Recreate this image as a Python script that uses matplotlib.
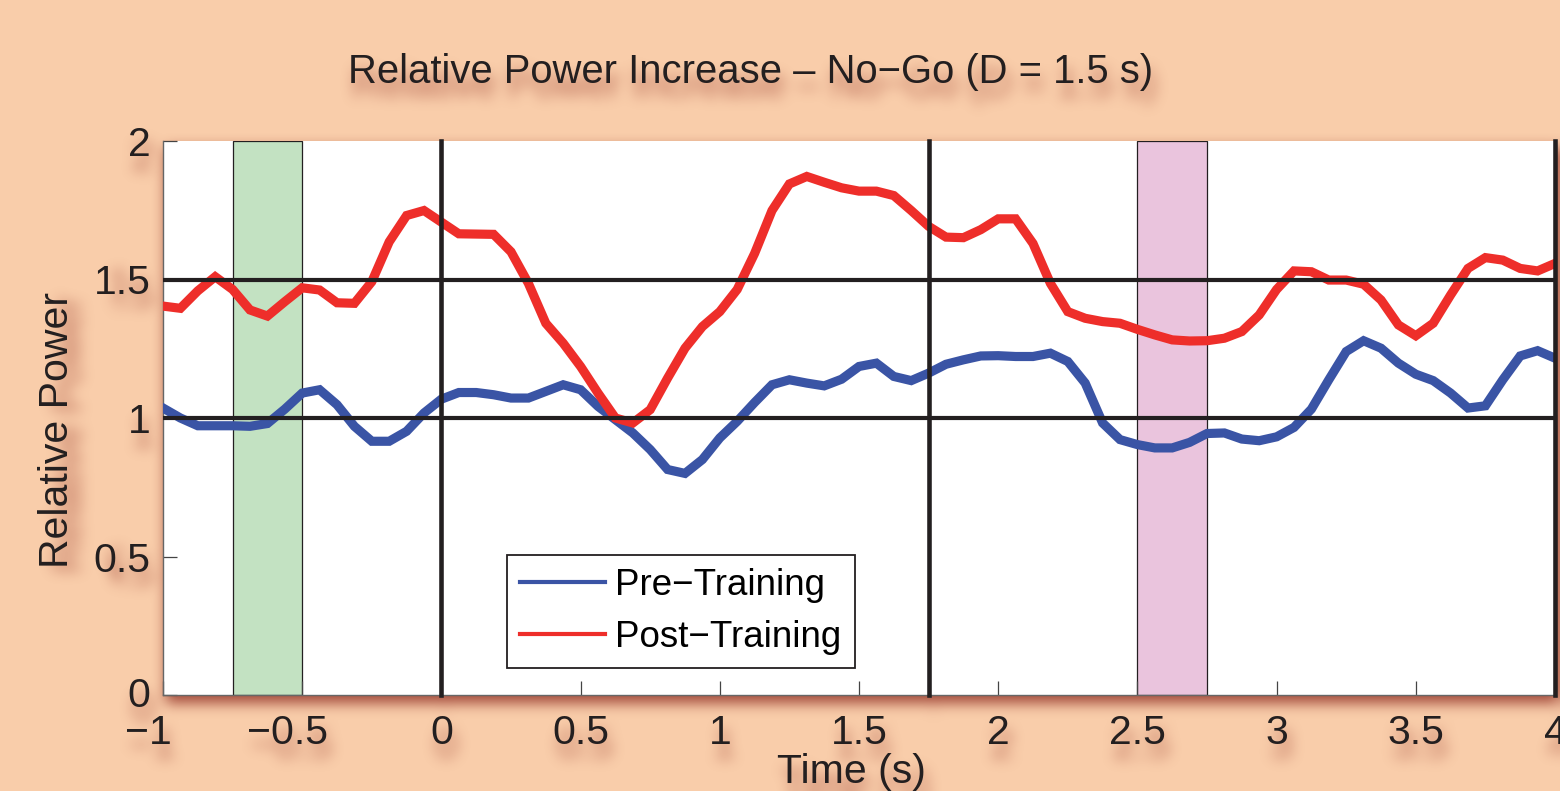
import numpy as np
import matplotlib
matplotlib.use('Agg')
import matplotlib.pyplot as plt
import matplotlib.transforms as mtransforms
from matplotlib.lines import Line2D

# ---------------- data ----------------
time_s = np.linspace(-1, 4, 81)
pre_training = [1.036, 1.000, 0.972, 0.972, 0.972, 0.970, 0.980, 1.032, 1.090, 1.102,
                1.048, 0.970, 0.916, 0.916, 0.952, 1.018, 1.068, 1.092, 1.092, 1.084,
                1.072, 1.072, 1.096, 1.120, 1.102, 1.042, 0.994, 0.946,
                0.886, 0.814, 0.800, 0.850, 0.928, 0.988, 1.056, 1.120, 1.138, 1.126,
                1.116, 1.140, 1.186, 1.198, 1.150, 1.135, 1.162, 1.194, 1.210, 1.224,
                1.225, 1.222, 1.222, 1.234, 1.204,
                1.126, 0.982, 0.922, 0.904, 0.892, 0.892, 0.912, 0.944, 0.946, 0.924,
                0.918, 0.932, 0.966, 1.032, 1.138, 1.240, 1.279, 1.252, 1.198, 1.158,
                1.135, 1.090, 1.036, 1.044, 1.138, 1.224, 1.243, 1.216]
post_training = [1.404, 1.396, 1.459, 1.510, 1.464, 1.390, 1.368, 1.420, 1.470, 1.462,
                 1.416, 1.414, 1.492, 1.636, 1.731, 1.749, 1.707, 1.665, 1.664, 1.663,
                 1.600, 1.486, 1.342, 1.270, 1.186, 1.090, 1.000, 0.982,
                 1.030, 1.144, 1.252, 1.330, 1.384, 1.464, 1.594, 1.749, 1.845, 1.872,
                 1.851, 1.831, 1.819, 1.819, 1.803, 1.749, 1.692, 1.653, 1.651, 1.680,
                 1.719, 1.719, 1.630, 1.486, 1.384,
                 1.360, 1.348, 1.342, 1.320, 1.300, 1.282, 1.278, 1.279, 1.288, 1.312,
                 1.372, 1.464, 1.531, 1.528, 1.498, 1.498, 1.483, 1.426, 1.336, 1.297,
                 1.342, 1.444, 1.540, 1.579, 1.570, 1.540, 1.531, 1.558]
event_times = [0, 1.75, 4]
ref_levels = [1, 1.5]
green_window = (-0.75, -0.5)
pink_window = (2.5, 2.75)
series_labels = ['Pre\u2212Training', 'Post\u2212Training']
xticks = [-1, -0.5, 0, 0.5, 1, 1.5, 2, 2.5, 3, 3.5, 4]
xticklabels = ['\u22121', '\u22120.5', '0', '0.5', '1', '1.5', '2', '2.5', '3', '3.5', '4']
yticks = [0, 0.5, 1, 1.5, 2]
yticklabels = ['0', '0.5', '1', '1.5', '2']
title = 'Relative Power Increase \u2013 No\u2212Go (D = 1.5 s)'
xlabel = 'Time (s)'
ylabel = 'Relative Power'

# ---------------- style ----------------
BG = '#F9CDAA'
BLUE = '#3A54A5'
RED = '#EE2E2A'
BLACK = '#231F20'
plt.rcParams['font.family'] = ['Liberation Sans', 'DejaVu Sans']

W, H = 1560, 791
fig = plt.figure(figsize=(W / 100, H / 100), dpi=100, facecolor=BG)
ax = fig.add_axes([163 / W, 96 / H, 1392 / W, 554 / H])
ax.set_facecolor('white')

ax.axvspan(*green_window, facecolor='#C3E2C2', edgecolor=BLACK, lw=0.9, zorder=1)
ax.axvspan(*pink_window, facecolor='#EAC4DD', edgecolor=BLACK, lw=0.9, zorder=1)

ax.plot(time_s, pre_training, color=BLUE, lw=6.6, solid_joinstyle='miter', zorder=3)
ax.plot(time_s, post_training, color=RED, lw=6.6, solid_joinstyle='miter', zorder=3)

for lv in ref_levels:
    ax.axhline(lv, color=BLACK, lw=3.0, zorder=4)
for et in event_times:
    ax.axvline(et, color=BLACK, lw=3.3, zorder=4, clip_on=False)

ax.set_xlim(-1, 4)
ax.set_ylim(0, 2)
ax.set_xticks(xticks)
ax.set_xticklabels(xticklabels)
ax.set_yticks(yticks)
ax.set_yticklabels(yticklabels)
ax.tick_params(direction='in', length=10, width=0.9, color='#444444',
               labelsize=29.5, labelcolor=BLACK, top=False, right=False)
ax.tick_params(axis='x', pad=14)
ax.tick_params(axis='y', pad=9)
for s in ['top', 'right']:
    ax.spines[s].set_visible(False)
for s in ['left', 'bottom']:
    ax.spines[s].set_color('#666666')
    ax.spines[s].set_linewidth(1.0)

# negative labels sit a little to the left (wide minus sign)
neg_offset = mtransforms.ScaledTranslation(-15 / 100, 0, fig.dpi_scale_trans)
for val, lab in zip(xticks, ax.get_xticklabels()):
    if val < 0:
        lab.set_transform(lab.get_transform() + neg_offset)
# the lowest y label sits slightly higher, as in the original
up_offset = mtransforms.ScaledTranslation(0, 3 / 100, fig.dpi_scale_trans)
ylabs = ax.get_yticklabels()
ylabs[0].set_transform(ylabs[0].get_transform() + up_offset)

handles = [Line2D([], [], color=BLUE, lw=3), Line2D([], [], color=RED, lw=3)]
leg = ax.legend(handles, series_labels, loc='lower left',
                bbox_to_anchor=(344 / 1392, 27 / 554), borderaxespad=0,
                fontsize=26.5, handlelength=2.3, handletextpad=0.28,
                labelspacing=0.45, borderpad=0.36, fancybox=False,
                framealpha=1, edgecolor=BLACK)
leg.get_frame().set_linewidth(1.3)
leg.set_zorder(6)

fig.text(751 / W, (H - 83) / H, title, ha='center', va='baseline',
         fontsize=28.8, color=BLACK)
fig.text(57 / W, (H - 430) / H, ylabel, ha='center', va='center',
         rotation=90, fontsize=29.5, color=BLACK)
fig.text(851 / W, (H - 753) / H, xlabel, ha='center', va='top',
         fontsize=29.5, color=BLACK)

# ---------------- soft drop shadows ----------------
fig.canvas.draw()
buf = np.asarray(fig.canvas.buffer_rgba()).astype(float) / 255.0
lum = buf[..., :3].mean(axis=2)
bg_rgb = np.array(matplotlib.colors.to_rgb(BG))
bg_lum = bg_rgb.mean()
dark = np.clip((bg_lum - lum) / bg_lum, 0, 1)
x0, x1, y0, y1 = 163, 1555, 141, 695
dark[y0:y1 + 1, x0:x1 + 1] = 0.0


def shift(a, dy, dx):
    out = np.zeros_like(a)
    hh, ww = a.shape
    out[max(dy, 0):hh + min(dy, 0), max(dx, 0):ww + min(dx, 0)] = \
        a[max(-dy, 0):hh - max(dy, 0), max(-dx, 0):ww - max(dx, 0)]
    return out


def box_blur(a, r, axis):
    pad = [(0, 0), (0, 0)]
    pad[axis] = (r + 1, r)
    p = np.pad(a, pad, mode='edge')
    c = np.cumsum(p, axis=axis)
    if axis == 0:
        return (c[2 * r + 1:] - c[:-2 * r - 1]) / (2 * r + 1)
    return (c[:, 2 * r + 1:] - c[:, :-2 * r - 1]) / (2 * r + 1)


def blur(a, r):
    for _ in range(3):
        a = box_blur(a, r, 0)
        a = box_blur(a, r, 1)
    return a

text_mask = np.zeros_like(dark)
left = dark.copy(); left[:, 110:] = 0
rest = dark.copy(); rest[:, :110] = 0
text_mask += shift(left, 4, 14)
text_mask += shift(rest, 14, 4)
text_sh = blur(text_mask, 6) * 1.3

rect = np.zeros_like(dark)
rect[y0:y1 + 1, x0:x1 + 1] = 1.0
rect_sh = blur(shift(rect, 7, 3), 6)

alpha = np.clip(0.8 * rect_sh + 0.55 * text_sh, 0, 0.8)
shadow = np.zeros((H, W, 4))
shadow[..., 0] = 140 / 255
shadow[..., 1] = 40 / 255
shadow[..., 2] = 30 / 255
shadow[..., 3] = alpha
fig.figimage(shadow, xo=0, yo=0, origin='upper', zorder=-5)

fig.savefig('out.png', dpi=100, facecolor=BG)
